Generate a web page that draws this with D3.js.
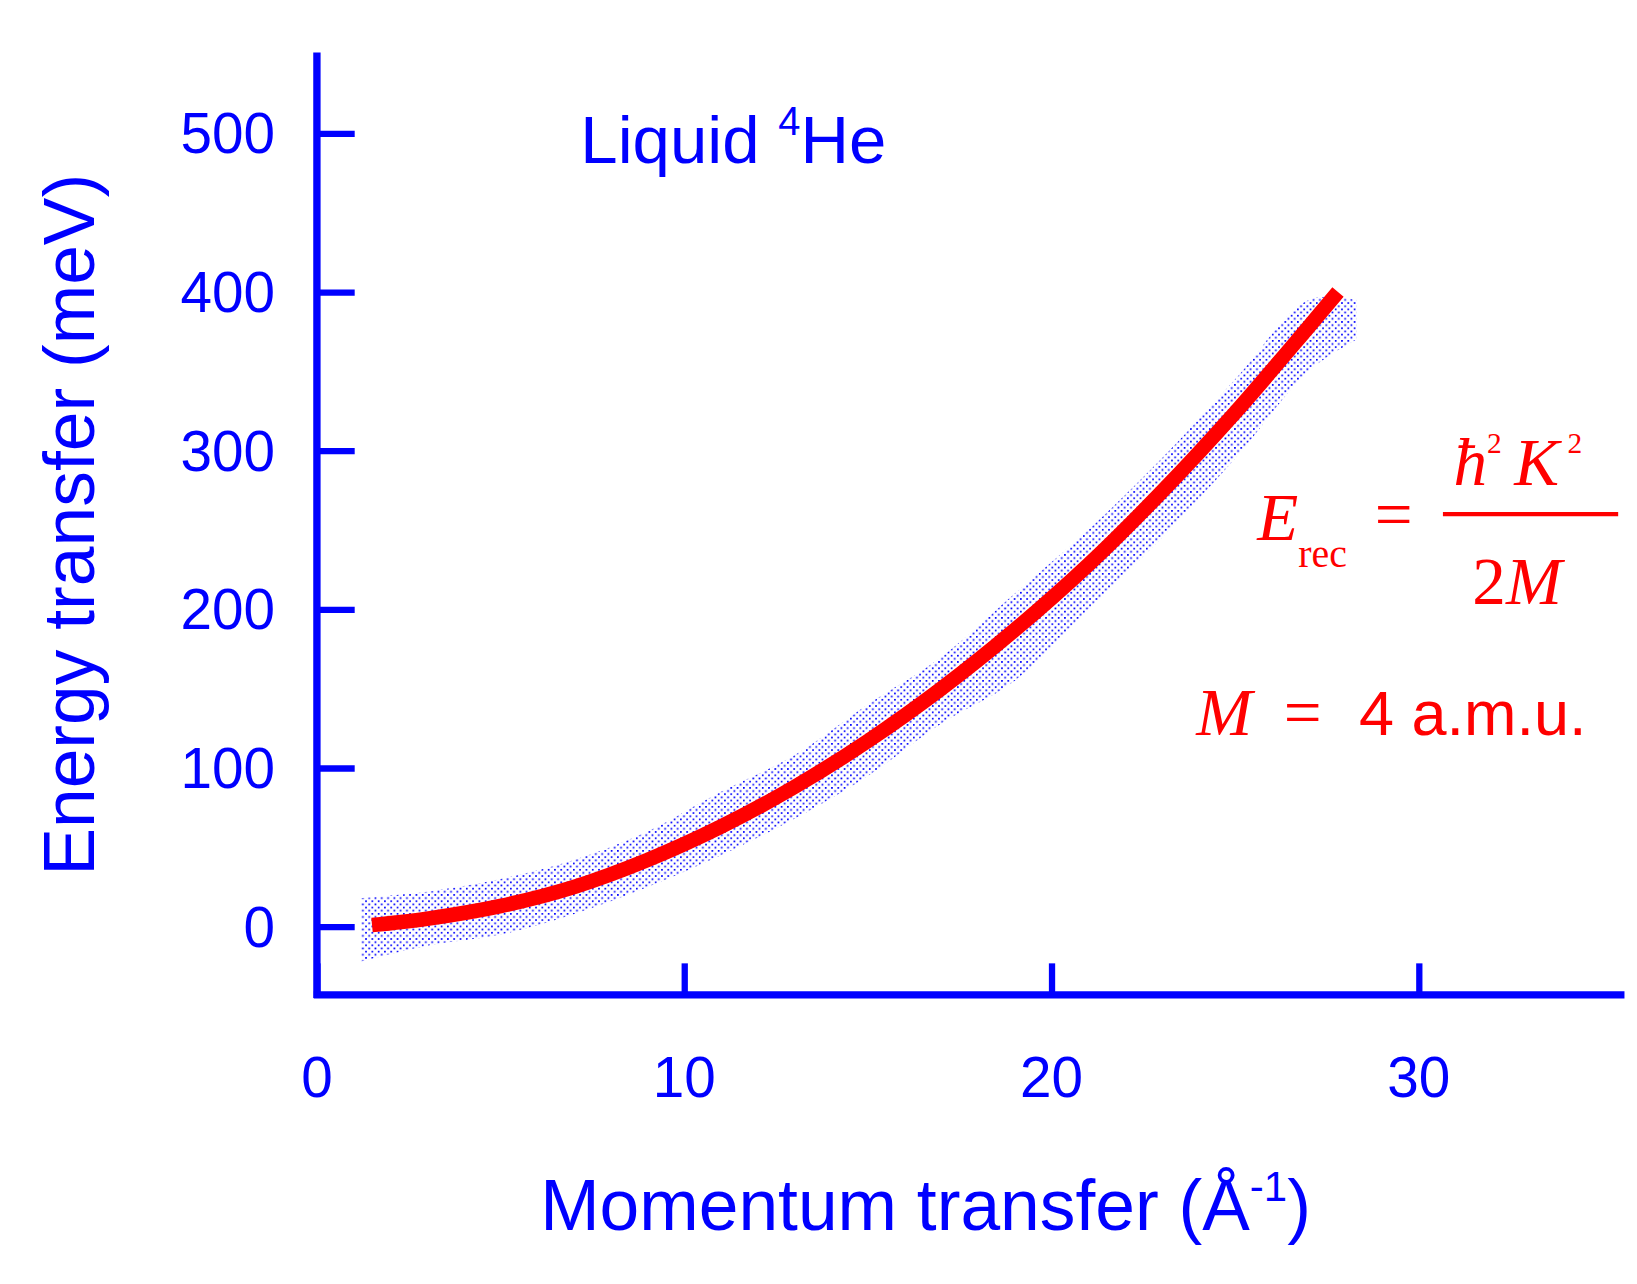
<!DOCTYPE html><html><head><meta charset="utf-8"><script src="https://cdn.jsdelivr.net/npm/d3@7"></script>
<style>body{margin:0;background:#fff}</style></head><body><svg id="c" width="1637" height="1284"></svg>
<script>
const xTicks=[0,10,20,30], yTicks=[0,100,200,300,400,500];
const curveK=[1.5,3,5,7,9,11,13,15,17,19,21,23,25,27,27.8];
const curveE=[1,5,13,25,42,63,88,117,150,187,228,274,324,378,400];
const bandK=[1.2,3,5,7,9,11,13,15,17,19,21,23,25,27,28.3];
const bandLo=[-22,-12,-5,8,25,45,68,95,128,155,200,245,295,350,370];
const bandHi=[18,22,30,42,60,85,108,140,170,210,250,295,345,395,395];
const root=d3.select("#c"), B="#0000ff", R="#ff0000";
const svg=root.append("g").attr("transform","scale(1.0494)");
const x=d3.scaleLinear([0,35.6],[302,1548]);
const y=d3.scaleLinear([-43,551],[948,50]);
const defs=root.append("defs");
const p=defs.append("pattern").attr("id","dots").attr("width",6).attr("height",6).attr("patternUnits","userSpaceOnUse");
p.append("rect").attr("x",0).attr("y",0).attr("width",1.6).attr("height",1.6).attr("fill",B);
p.append("rect").attr("x",3).attr("y",3).attr("width",1.6).attr("height",1.6).attr("fill",B);
svg.append("path").datum(bandK.map((k,i)=>[k,bandLo[i],bandHi[i]]))
 .attr("d",d3.area().x(d=>x(d[0])).y0(d=>y(d[1])).y1(d=>y(d[2])).curve(d3.curveCatmullRom))
 .attr("fill","url(#dots)");
svg.append("path").datum(curveK.map((k,i)=>[k,curveE[i]]))
 .attr("d",d3.line().x(d=>x(d[0])).y(d=>y(d[1])).curve(d3.curveCatmullRom))
 .attr("fill","none").attr("stroke",R).attr("stroke-width",14);
const xa=svg.append("g").attr("transform","translate(0,948)").call(d3.axisTop(x).tickValues(xTicks).tickSize(30).tickFormat(""));
const ya=svg.append("g").attr("transform","translate(302,0)").call(d3.axisRight(y).tickValues(yTicks).tickSize(36).tickFormat(""));
[xa,ya].forEach(g=>{g.selectAll("line,path").attr("stroke",B).attr("stroke-width",6);g.select(".domain").attr("d",null)});
svg.append("line").attr("x1",299).attr("x2",1548).attr("y1",948).attr("y2",948).attr("stroke",B).attr("stroke-width",7);
svg.append("line").attr("x1",302).attr("x2",302).attr("y1",50).attr("y2",951).attr("stroke",B).attr("stroke-width",7);
const f="Liberation Sans, Arial, sans-serif";
xTicks.forEach(v=>svg.append("text").attr("x",x(v)).attr("y",1045).attr("text-anchor","middle").attr("font-family",f).attr("font-size",54).attr("fill",B).text(v));
yTicks.forEach(v=>svg.append("text").attr("x",262).attr("y",y(v)+19).attr("text-anchor","end").attr("font-family",f).attr("font-size",54).attr("fill",B).text(v));
svg.append("text").attr("transform","translate(90,500) rotate(-90)").attr("text-anchor","middle").attr("font-family",f).attr("font-size",68).attr("fill",B).text("Energy transfer (meV)");
const xl=svg.append("text").attr("x",882).attr("y",1172).attr("text-anchor","middle").attr("font-family",f).attr("font-size",68).attr("fill",B);
xl.append("tspan").text("Momentum transfer (Å");xl.append("tspan").attr("font-size",40).attr("dy",-28).text("-1");xl.append("tspan").attr("dy",28).text(")");
const t=svg.append("text").attr("x",553).attr("y",155).attr("font-family",f).attr("font-size",64).attr("fill",B);
t.append("tspan").text("Liquid ");t.append("tspan").attr("font-size",38).attr("dy",-26).text("4");t.append("tspan").attr("dy",26).text("He");
const tf="Liberation Serif, Times New Roman, serif";
const e=svg.append("text").attr("x",1198).attr("y",515).attr("font-family",tf).attr("font-size",64).attr("fill",R).attr("font-style","italic");
e.append("tspan").text("E");e.append("tspan").attr("font-style","normal").attr("font-size",38).attr("dy",25).text("rec");
svg.append("text").attr("x",1310).attr("y",512).attr("font-family",tf).attr("font-size",64).attr("fill",R).text("=");
const n=svg.append("text").attr("x",1385).attr("y",462).attr("font-family",tf).attr("font-size",64).attr("fill",R).attr("font-style","italic");
n.append("tspan").text("ħ");n.append("tspan").attr("font-style","normal").attr("font-size",28).attr("dy",-30).text("2");
n.append("tspan").attr("dy",30).attr("dx",12).text("K");n.append("tspan").attr("font-style","normal").attr("font-size",28).attr("dy",-30).attr("dx",8).text("2");
svg.append("line").attr("x1",1375).attr("x2",1542).attr("y1",490).attr("y2",490).attr("stroke",R).attr("stroke-width",4);
const d=svg.append("text").attr("x",1403).attr("y",576).attr("font-family",tf).attr("font-size",64).attr("fill",R);
d.append("tspan").text("2");d.append("tspan").attr("font-style","italic").text("M");
const m=svg.append("text").attr("x",1140).attr("y",700).attr("font-family",tf).attr("font-size",64).attr("fill",R);
m.append("tspan").attr("font-style","italic").text("M");m.append("tspan").attr("dx",30).text("=");
svg.append("text").attr("x",1295).attr("y",700).attr("font-family",f).attr("font-size",60).attr("fill",R).text("4  a.m.u.");
</script></body></html>
